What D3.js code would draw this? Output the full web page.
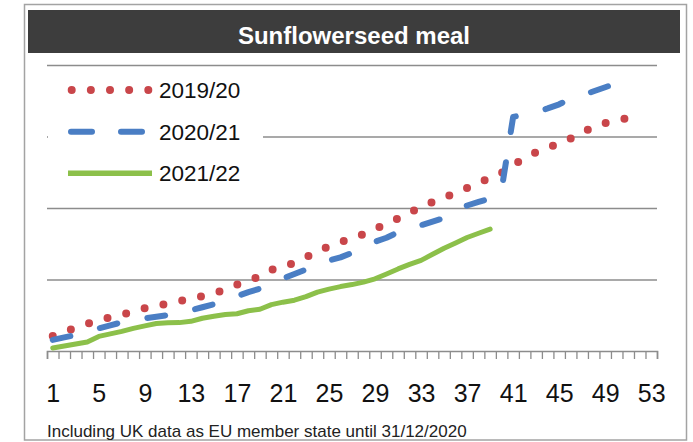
<!DOCTYPE html>
<html lang="en">
<head>
    <meta charset="UTF-8">
    <title>Sunflowerseed meal</title>
    <style>
        body { margin: 0; background: #fff; }
        svg { display: block; font-family: "Liberation Sans", Arial, sans-serif; }
    </style>
</head>
<body>
    <script src="https://d3js.org/d3.v7.min.js"></script>
    <div id="chart"></div>

    <script>
        // cumulative weekly values, thousand tonnes
        const seasons = ["2019/20", "2020/21", "2021/22"];
        const values1920 = [211, 268, 324, 380, 422, 472, 507, 549, 598, 634, 662, 697, 732, 767, 810, 859, 929, 986,
            1042, 1133, 1183, 1232, 1309, 1394, 1464, 1521, 1577, 1633, 1704, 1781, 1852, 1936, 2013, 2084, 2147,
            2211, 2281, 2351, 2422, 2492, 2605, 2696, 2781, 2837, 2908, 2971, 3055, 3133, 3189, 3224, 3260];
        const values2021 = [155, 190, 225, 268, 317, 359, 401, 436, 458, 479, 500, 535, 570, 612, 655, 718, 767, 824,
            873, 943, 1014, 1077, 1140, 1211, 1267, 1309, 1373, 1464, 1528, 1584, 1661, 1711, 1760, 1809, 1859,
            1943, 2035, 2084, 2133, 2259, 3274, 3309, 3344, 3393, 3450, 3527, 3576, 3633, 3689, 3745, 3788];
        const values2122 = [42, 70, 99, 127, 204, 239, 275, 317, 352, 384, 394, 397, 415, 458, 486, 510, 521, 563,
            584, 648, 683, 711, 760, 824, 866, 901, 929, 964, 1010, 1077, 1148, 1211, 1267, 1352, 1436,
            1511, 1587, 1647, 1704];
        const weekLabels = [1, 5, 9, 13, 17, 21, 25, 29, 33, 37, 41, 45, 49, 53];
        const gridValues = [1000, 2000, 3000, 4000];

        const width = 693;
        const height = 442;

        const svg = d3.select("#chart").append("svg")
            .attr("width", width)
            .attr("height", height);

        // frame + title bar
        svg.append("rect")
            .attr("x", 24.5).attr("y", 4.5)
            .attr("width", 662).attr("height", 435.5)
            .attr("fill", "#fff")
            .attr("stroke", "#a3a3a3")
            .attr("stroke-width", 1.5);

        svg.append("rect")
            .attr("x", 28).attr("y", 10)
            .attr("width", 652).attr("height", 43)
            .attr("fill", "#3d3d3d");

        svg.append("text")
            .attr("x", 354).attr("y", 43.5)
            .attr("text-anchor", "middle")
            .attr("fill", "#fff")
            .attr("font-weight", "bold")
            .attr("font-size", 24)
            .text("Sunflowerseed meal");

        // scales
        const x = d3.scaleLinear().domain([0.5, 53.5]).range([47, 657]);
        const y = d3.scaleLinear().domain([0, 4000]).range([351, 65]);

        // gridlines
        const grid = svg.append("g")
            .attr("transform", "translate(47,0)")
            .call(d3.axisLeft(y).tickValues(gridValues).tickSize(-610).tickFormat(""));
        grid.select(".domain").remove();
        grid.selectAll(".tick line")
            .attr("stroke", "#8c8c8c")
            .attr("stroke-width", 1.6);

        // x axis: tick marks on week boundaries
        const xAxis = svg.append("g")
            .attr("transform", "translate(0,351)")
            .call(d3.axisBottom(x).tickValues(d3.range(0.5, 54, 1)).tickSize(8).tickSizeOuter(8).tickFormat(""));
        xAxis.select(".domain").attr("stroke", "#8c8c8c").attr("stroke-width", 1.6);
        xAxis.selectAll(".tick line").attr("stroke", "#8c8c8c").attr("stroke-width", 1.3);

        // x labels every 4 weeks
        const xLabelAxis = svg.append("g")
            .attr("transform", "translate(0,351)")
            .call(d3.axisBottom(x).tickValues(weekLabels).tickSize(0));
        xLabelAxis.select(".domain").remove();
        xLabelAxis.selectAll(".tick text")
            .attr("y", 50.5)
            .attr("dy", null)
            .attr("font-size", 25)
            .attr("font-family", "'Liberation Sans', Arial, sans-serif")
            .attr("fill", "#111");

        // legend box hides the gridline behind it
        svg.append("rect")
            .attr("x", 48).attr("y", 72)
            .attr("width", 215).attr("height", 120)
            .attr("fill", "#fff");

        const styles = [
            { color: "#c9464a", width: 8, dash: "0,19.2" },
            { color: "#4a7ec4", width: 6, dash: "18,30.6" },
            { color: "#8cc04a", width: 5, dash: null }
        ];
        const seriesValues = [values1920, values2021, values2122];

        const line = d3.line()
            .x((d, i) => x(i + 1))
            .y(d => y(d));

        seriesValues.forEach((vals, i) => {
            svg.append("path")
                .datum(vals)
                .attr("fill", "none")
                .attr("stroke", styles[i].color)
                .attr("stroke-width", styles[i].width)
                .attr("stroke-dasharray", styles[i].dash)
                .attr("stroke-linecap", "round")
                .attr("stroke-linejoin", "round")
                .attr("d", line);
        });

        // legend entries
        const legendY = [90, 131.7, 173.3];
        const legendDash = ["0,19.15", "21,29", null];
        const legendX = [[71.7, 148.3], [71, 142], [68, 152]];
        seasons.forEach((s, i) => {
            svg.append("line")
                .attr("x1", legendX[i][0]).attr("x2", legendX[i][1])
                .attr("y1", legendY[i]).attr("y2", legendY[i])
                .attr("stroke", styles[i].color)
                .attr("stroke-width", i === 2 ? 5.5 : styles[i].width)
                .attr("stroke-dasharray", legendDash[i])
                .attr("stroke-linecap", i === 2 ? "butt" : "round");
            svg.append("text")
                .attr("x", 159)
                .attr("y", legendY[i] + 8)
                .attr("font-size", 22.5)
                .attr("fill", "#111")
                .text(s);
        });

        // footnote
        svg.append("text")
            .attr("x", 47).attr("y", 436.5)
            .attr("font-size", 17)
            .attr("fill", "#222")
            .text("Including UK data as EU member state until 31/12/2020");
    </script>
</body>
</html>
